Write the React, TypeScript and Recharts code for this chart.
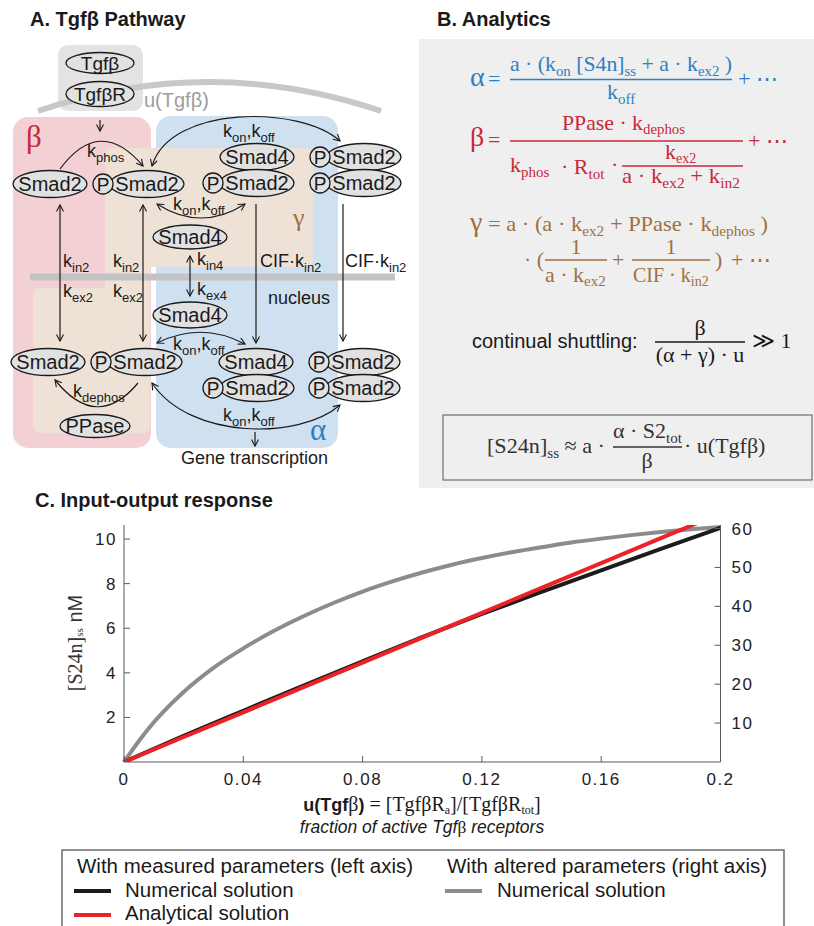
import React from 'react'
import { LineChart, Line, XAxis, YAxis } from 'recharts'

const SANS = '"Liberation Sans", Arial, Helvetica, sans-serif'
const SERIF = '"Liberation Serif", "Times New Roman", serif'
const INK = '#1a1a1a'
const BLUE = '#2e7fc3'
const RED = '#c9283a'
const BROWN = '#a0703e'
const AXIS = '#5a5a5a'

// panel C
const uMeasured = [0, 0.02, 0.04, 0.06, 0.08, 0.1, 0.12, 0.14, 0.16, 0.18, 0.2]
const measuredNumerical = [0, 1.17, 2.3, 3.42, 4.52, 5.6, 6.64, 7.63, 8.6, 9.56, 10.5]
const measuredAnalytical = [0, 1.12, 2.23, 3.35, 4.46, 5.58, 6.69, 7.81, 8.92, 10.04, 11.15]

const uAltered = [0, 0.005, 0.01, 0.02, 0.03, 0.04, 0.05, 0.06, 0.07, 0.08, 0.09, 0.1, 0.11, 0.12, 0.13, 0.14, 0.15, 0.16, 0.17, 0.18, 0.19, 0.2]
const alteredNumerical = [0, 5.4, 10.2, 18.0, 24.2, 29.2, 33.6, 37.4, 40.8, 43.8, 46.4, 48.7, 50.7, 52.4, 53.9, 55.2, 56.4, 57.4, 58.3, 59.1, 59.8, 60.4]

const xTicks = [0, 0.04, 0.08, 0.12, 0.16, 0.2]
const leftTicks = [2, 4, 6, 8, 10]
const rightTicks = [10, 20, 30, 40, 50, 60]

const measuredRows = uMeasured.map((u, i) => ({
  u,
  numerical: measuredNumerical[i],
  analytical: measuredAnalytical[i],
}))
const alteredRows = uAltered.map((u, i) => ({ u, numerical: alteredNumerical[i] }))

type Part = [string, string?]

function Sub({
  x, y, parts, fs = 18, sfs = 13, drop = 5, fill = INK, family = SANS, anchor = 'start', len,
}: {
  x: number; y: number; parts: Part[]; fs?: number; sfs?: number; drop?: number
  fill?: string; family?: string; anchor?: string; len?: number
}) {
  const kids: React.ReactNode[] = []
  let low = false
  parts.forEach(([main, sub], i) => {
    if (main) {
      kids.push(<tspan key={`m${i}`} dy={low ? -drop : 0}>{main}</tspan>)
      low = false
    }
    if (sub) {
      kids.push(<tspan key={`s${i}`} dy={low ? 0 : drop} fontSize={sfs}>{sub}</tspan>)
      low = true
    }
  })
  return (
    <text x={x} y={y} fontSize={fs} fill={fill} fontFamily={family} textAnchor={anchor as any}
      textLength={len} lengthAdjust={len ? 'spacingAndGlyphs' : undefined}>
      {kids}
    </text>
  )
}

function Blob({ cx, cy, label, rx = 37, ry = 13.5, fs = 20 }: { cx: number; cy: number; label: string; rx?: number; ry?: number; fs?: number }) {
  return (
    <g>
      <ellipse cx={cx} cy={cy} rx={rx} ry={ry} fill="#e1e1e1" stroke={INK} strokeWidth={1.3} />
      <text x={cx} y={cy + fs * 0.36} textAnchor="middle" fontSize={fs} fontFamily={SANS} fill={INK}>{label}</text>
    </g>
  )
}

function PBlob({ cx, cy }: { cx: number; cy: number }) {
  return (
    <g>
      <Blob cx={cx} cy={cy} label="Smad2" />
      <circle cx={cx - 44} cy={cy} r={10} fill="#e1e1e1" stroke={INK} strokeWidth={1.3} />
      <text x={cx - 44} y={cy + 7} textAnchor="middle" fontSize={19} fontFamily={SANS} fill={INK}>P</text>
    </g>
  )
}

const arrow = { fill: 'none', stroke: INK, strokeWidth: 1.2 }

function Pathway() {
  return (
    <g>
      <defs>
        <marker id="ah" markerWidth={9} markerHeight={9} refX={7} refY={4} orient="auto-start-reverse" markerUnits="userSpaceOnUse">
          <path d="M0.5,0.5 L7,4 L0.5,7.5" fill="none" stroke={INK} strokeWidth={1.1} />
        </marker>
      </defs>
      <text x={30} y={26} fontSize={20} fontWeight="bold" fontFamily={SANS} fill={INK}>A. Tgfβ Pathway</text>

      {/* compartments */}
      <rect x={13} y={117} width={138} height={331} rx={15} fill="#f2d0d4" />
      <rect x={156} y={116} width={182} height={332} rx={15} fill="#cfe1f1" />
      <path d="M113,148 H305 Q313,148 313,156 V259 Q313,267 305,267 H150 V425 Q150,433 142,433 H41 Q33,433 33,425 V296 Q33,288 41,288 H105 V156 Q105,148 113,148 Z" fill="#eee2d6" />
      <rect x={58} y={45} width={85} height={66} rx={10} fill="#e3e3e3" />
      <path d="M38,111 Q209,53 381,111" fill="none" stroke="#c8c8c8" strokeWidth={6} />
      <line x1={30} y1={277} x2={395} y2={277} stroke="#c3c3c3" strokeWidth={7} />

      <text x={26} y={147} fontSize={31} fontFamily={SERIF} fill={RED}>β</text>
      <text x={293} y={226} fontSize={26} fontFamily={SERIF} fill={BROWN}>γ</text>
      <text x={310} y={440} fontSize={31} fontFamily={SERIF} fill={BLUE}>α</text>
      <text x={144} y={107} fontSize={20} fontFamily={SANS} fill="#9e9e9e">u(Tgfβ)</text>
      <text x={268} y={304} fontSize={18} fontFamily={SANS} fill={INK}>nucleus</text>

      {/* arrows */}
      <path d="M100,120 V131" {...arrow} markerEnd="url(#ah)" />
      <path d="M60,169 Q100,115 143,166" {...arrow} markerEnd="url(#ah)" />
      <path d="M152,166 C170,105 300,105 340,141" {...arrow} markerStart="url(#ah)" markerEnd="url(#ah)" />
      <path d="M157,204 Q201,232 245,204" {...arrow} markerStart="url(#ah)" markerEnd="url(#ah)" />
      <path d="M60,205 V341" {...arrow} markerStart="url(#ah)" markerEnd="url(#ah)" />
      <path d="M143,205 V341" {...arrow} markerStart="url(#ah)" markerEnd="url(#ah)" />
      <path d="M190,256 V296" {...arrow} markerStart="url(#ah)" markerEnd="url(#ah)" />
      <path d="M256,204 V343" {...arrow} markerEnd="url(#ah)" />
      <path d="M343,204 V341" {...arrow} markerEnd="url(#ah)" />
      <path d="M157,343 Q201,321 245,344" {...arrow} markerStart="url(#ah)" markerEnd="url(#ah)" />
      <path d="M138,383 Q97,432 55,380" {...arrow} markerEnd="url(#ah)" />
      <path d="M152,383 C190,440 300,440 340,405" {...arrow} markerStart="url(#ah)" markerEnd="url(#ah)" />
      <path d="M255,432 V446" {...arrow} markerEnd="url(#ah)" />

      {/* species */}
      <Blob cx={100} cy={63} label="Tgfβ" rx={34} ry={10.5} fs={19} />
      <Blob cx={100} cy={94} label="TgfβR" rx={34} ry={12.5} fs={19} />
      <Blob cx={50} cy={184} label="Smad2" />
      <PBlob cx={147} cy={184} />
      <Blob cx={257} cy={157} label="Smad4" />
      <PBlob cx={257} cy={183} />
      <PBlob cx={364} cy={157} />
      <PBlob cx={364} cy={183} />
      <Blob cx={190} cy={237} label="Smad4" ry={12} />
      <Blob cx={190} cy={315} label="Smad4" ry={13} />
      <Blob cx={48} cy={362} label="Smad2" />
      <PBlob cx={145} cy={362} />
      <Blob cx={256} cy={362} label="Smad4" />
      <PBlob cx={257} cy={388} />
      <PBlob cx={363} cy={362} />
      <PBlob cx={363} cy={388} />
      <Blob cx={95} cy={426} label="PPase" rx={35} ry={11.5} />

      {/* rates */}
      <Sub x={87} y={157} parts={[['k', 'phos']]} />
      <Sub x={223} y={137} parts={[['k', 'on'], [',k', 'off']]} />
      <Sub x={173} y={210} parts={[['k', 'on'], [',k', 'off']]} />
      <Sub x={63} y={267} parts={[['k', 'in2']]} />
      <Sub x={63} y={297} parts={[['k', 'ex2']]} />
      <Sub x={113} y={267} parts={[['k', 'in2']]} />
      <Sub x={113} y={297} parts={[['k', 'ex2']]} />
      <Sub x={197} y={265} parts={[['k', 'in4']]} />
      <Sub x={197} y={295} parts={[['k', 'ex4']]} />
      <Sub x={260} y={267} parts={[['CIF·k', 'in2']]} />
      <Sub x={345} y={267} parts={[['CIF·k', 'in2']]} />
      <Sub x={173} y={350} parts={[['k', 'on'], [',k', 'off']]} />
      <Sub x={73} y={397} parts={[['k', 'dephos']]} />
      <Sub x={223} y={421} parts={[['k', 'on'], [',k', 'off']]} />
      <text x={181} y={464} fontSize={18} fontFamily={SANS} fill={INK}>Gene transcription</text>
    </g>
  )
}

function Analytics() {
  const s = { family: SERIF, fs: 22, sfs: 15, drop: 5 }
  const t = { fontSize: 22, fontFamily: SERIF }
  return (
    <g>
      <rect x={419} y={39} width={395} height={449} fill="#efefef" />
      <text x={437} y={26} fontSize={20} fontWeight="bold" fontFamily={SANS} fill={INK}>B. Analytics</text>

      {/* alpha */}
      <text x={470} y={86} fontSize={28} fontFamily={SERIF} fill={BLUE}>α</text>
      <text x={488} y={86} {...t} fill={BLUE}>=</text>
      <Sub x={510} y={71} {...s} fill={BLUE} len={222} parts={[['a · (k', 'on'], [' [S4n]', 'ss'], [' + a · k', 'ex2'], [' )']]} />
      <line x1={510} x2={732} y1={79.5} y2={79.5} stroke={BLUE} strokeWidth={1.5} />
      <Sub x={607} y={99} {...s} fill={BLUE} parts={[['k', 'off']]} />
      <text x={738} y={86} {...t} fill={BLUE}>+ ⋯</text>

      {/* beta */}
      <text x={470} y={146} fontSize={28} fontFamily={SERIF} fill={RED}>β</text>
      <text x={488} y={147} {...t} fill={RED}>=</text>
      <Sub x={562} y={130} {...s} drop={4} fill={RED} len={123} parts={[['PPase · k', 'dephos']]} />
      <line x1={510} x2={743} y1={141} y2={141} stroke={RED} strokeWidth={1.5} />
      <Sub x={510} y={172} {...s} fill={RED} parts={[['k', 'phos']]} />
      <Sub x={561} y={174} {...s} fill={RED} parts={[['· R', 'tot']]} />
      <text x={611} y={172} {...t} fill={RED}>·</text>
      <Sub x={665} y={159} {...s} sfs={14} drop={3.5} fill={RED} parts={[['k', 'ex2']]} />
      <line x1={622} x2={743} y1={166} y2={166} stroke={RED} strokeWidth={1.5} />
      <Sub x={622} y={183} {...s} fill={RED} len={118} parts={[['a · k', 'ex2'], [' + k', 'in2']]} />
      <text x={748} y={148} {...t} fill={RED}>+ ⋯</text>

      {/* gamma */}
      <text x={470} y={231} fontSize={28} fontFamily={SERIF} fill={BROWN}>γ</text>
      <Sub x={488} y={231} {...s} fill={BROWN} len={280} parts={[['= a · (a · k', 'ex2'], [' + PPase · k', 'dephos'], [' )']]} />
      <text x={524} y={267} {...t} fill={BROWN}>· (</text>
      <text x={576} y={254} {...t} fill={BROWN} textAnchor="middle">1</text>
      <line x1={545} x2={607} y1={260} y2={260} stroke={BROWN} strokeWidth={1.5} />
      <Sub x={545} y={282} {...s} drop={4} fill={BROWN} parts={[['a · k', 'ex2']]} />
      <text x={612} y={267} {...t} fill={BROWN}>+</text>
      <text x={671} y={254} {...t} fill={BROWN} textAnchor="middle">1</text>
      <line x1={632} x2={710} y1={260} y2={260} stroke={BROWN} strokeWidth={1.5} />
      <Sub x={633} y={282} family={SERIF} fs={20} sfs={14} drop={4} fill={BROWN} parts={[['CIF · k', 'in2']]} />
      <text x={715} y={267} {...t} fill={BROWN}>)</text>
      <text x={731} y={267} {...t} fill={BROWN}>+ ⋯</text>

      {/* shuttling condition */}
      <text x={472} y={348} fontSize={20} fontFamily={SANS} fill={INK}>continual shuttling:</text>
      <text x={700} y={335} {...t} fill={INK} textAnchor="middle">β</text>
      <line x1={655} x2={745} y1={342} y2={342} stroke={INK} strokeWidth={1.3} />
      <text x={700} y={362} {...t} fill={INK} textAnchor="middle">(α + γ) · u</text>
      <text x={752} y={348} {...t} fill={INK}>≫ 1</text>

      {/* boxed steady state */}
      <rect x={443} y={415} width={369} height={65} fill="none" stroke="#555" strokeWidth={1} />
      <Sub x={487} y={453} {...s} fill="#333" len={118} parts={[['[S24n]', 'ss'], [' ≈ a ·']]} />
      <Sub x={613} y={438} {...s} fill="#333" parts={[['α · S2', 'tot']]} />
      <line x1={613} x2={682} y1={447} y2={447} stroke="#333" strokeWidth={1.3} />
      <text x={647} y={468} {...t} fill="#333" textAnchor="middle">β</text>
      <text x={684} y={453} {...t} fill="#333">· u(Tgfβ)</text>
    </g>
  )
}

function ResponseFrame() {
  return (
    <g>
      <text x={35} y={507} fontSize={20} fontWeight="bold" fontFamily={SANS} fill={INK}>C. Input-output response</text>
      <text transform="translate(82,643) rotate(-90)" textAnchor="middle" fontSize={20} fill="#333">
        <tspan fontFamily={SERIF}>[S24n]</tspan>
        <tspan fontFamily={SERIF} fontSize={11} dy={1}>ss</tspan>
        <tspan fontFamily={SANS} dy={-1}> nM</tspan>
      </text>
      <text x={422} y={811} textAnchor="middle" fontSize={18} fill={INK}>
        <tspan fontFamily={SANS} fontWeight="bold">u(Tgf</tspan>
        <tspan fontFamily={SERIF} fontSize={20}>β</tspan>
        <tspan fontFamily={SANS} fontWeight="bold">)</tspan>
        <tspan fontFamily={SERIF} fontSize={20}> = [TgfβR</tspan>
        <tspan fontFamily={SERIF} fontSize={12} dy={3}>a</tspan>
        <tspan fontFamily={SERIF} fontSize={20} dy={-3}>]/[TgfβR</tspan>
        <tspan fontFamily={SERIF} fontSize={12} dy={3}>tot</tspan>
        <tspan fontFamily={SERIF} fontSize={20} dy={-3}>]</tspan>
      </text>
      <text x={422} y={833} textAnchor="middle" fontSize={17.5} fontStyle="italic" fontFamily={SANS} fill={INK}>
        fraction of active Tgf<tspan fontFamily={SERIF} fontStyle="normal">β</tspan> receptors
      </text>

      {/* legend */}
      <rect x={62} y={850} width={722} height={100} fill="none" stroke="#555" strokeWidth={1.3} />
      <g fontFamily={SANS} fontSize={20.5} fill={INK}>
        <text x={77} y={873}>With measured parameters (left axis)</text>
        <line x1={74} x2={111} y1={891} y2={891} stroke="#1c1c1c" strokeWidth={4} />
        <text x={125} y={897}>Numerical solution</text>
        <line x1={74} x2={111} y1={915} y2={915} stroke="#ec2227" strokeWidth={4} />
        <text x={125} y={920}>Analytical solution</text>
        <text x={447} y={873}>With altered parameters (right axis)</text>
        <line x1={445} x2={482} y1={891} y2={891} stroke="#8c8c8c" strokeWidth={4} />
        <text x={497} y={897}>Numerical solution</text>
      </g>
    </g>
  )
}

const tickStyle = { fontSize: 17, fill: '#222', fontFamily: SANS, letterSpacing: 1.5 }

export default function App() {
  return (
    <div style={{ position: 'absolute', left: 0, top: 0, width: 814, height: 926, background: '#fff', overflow: 'hidden' }}>
      <svg width={814} height={926} style={{ position: 'absolute', left: 0, top: 0 }}>
        <Pathway />
        <Analytics />
        <ResponseFrame />
      </svg>
      <div style={{ position: 'absolute', left: 0, top: 490 }}>
        <LineChart width={814} height={300} margin={{ top: 35, right: 33.5, bottom: 0, left: 60 }}>
          <XAxis
            xAxisId={0}
            type="number"
            dataKey="u"
            domain={[0, 0.2]}
            ticks={xTicks}
            tickFormatter={(v) => String(v)}
            height={28}
            tickSize={-6}
            tickMargin={17}
            tick={tickStyle}
            axisLine={{ stroke: AXIS }}
            tickLine={{ stroke: AXIS }}
          />
          <XAxis
            xAxisId="top"
            orientation="top"
            type="number"
            domain={[0, 0.2]}
            tick={false}
            tickLine={false}
            height={0}
            axisLine={{ stroke: '#8a8a8a' }}
          />
          <YAxis
            yAxisId="left"
            type="number"
            domain={[0, 10.63]}
            allowDataOverflow
            ticks={leftTicks}
            width={64}
            tickSize={-6}
            tickMargin={13}
            tick={tickStyle}
            axisLine={{ stroke: AXIS }}
            tickLine={{ stroke: AXIS }}
          />
          <YAxis
            yAxisId="right"
            orientation="right"
            type="number"
            domain={[0, 60.9]}
            allowDataOverflow
            ticks={rightTicks}
            width={60}
            tickSize={-6}
            tickMargin={17}
            tick={tickStyle}
            axisLine={{ stroke: AXIS }}
            tickLine={{ stroke: AXIS }}
          />
          <Line
            data={alteredRows}
            dataKey="numerical"
            xAxisId={0}
            yAxisId="right"
            type="monotone"
            stroke="#8c8c8c"
            strokeWidth={4}
            dot={false}
            isAnimationActive={false}
          />
          <Line
            data={measuredRows}
            dataKey="numerical"
            xAxisId={0}
            yAxisId="left"
            type="monotone"
            stroke="#1c1c1c"
            strokeWidth={4}
            dot={false}
            isAnimationActive={false}
          />
          <Line
            data={measuredRows}
            dataKey="analytical"
            xAxisId={0}
            yAxisId="left"
            type="linear"
            stroke="#ec2227"
            strokeWidth={4}
            dot={false}
            isAnimationActive={false}
          />
        </LineChart>
      </div>
    </div>
  )
}
